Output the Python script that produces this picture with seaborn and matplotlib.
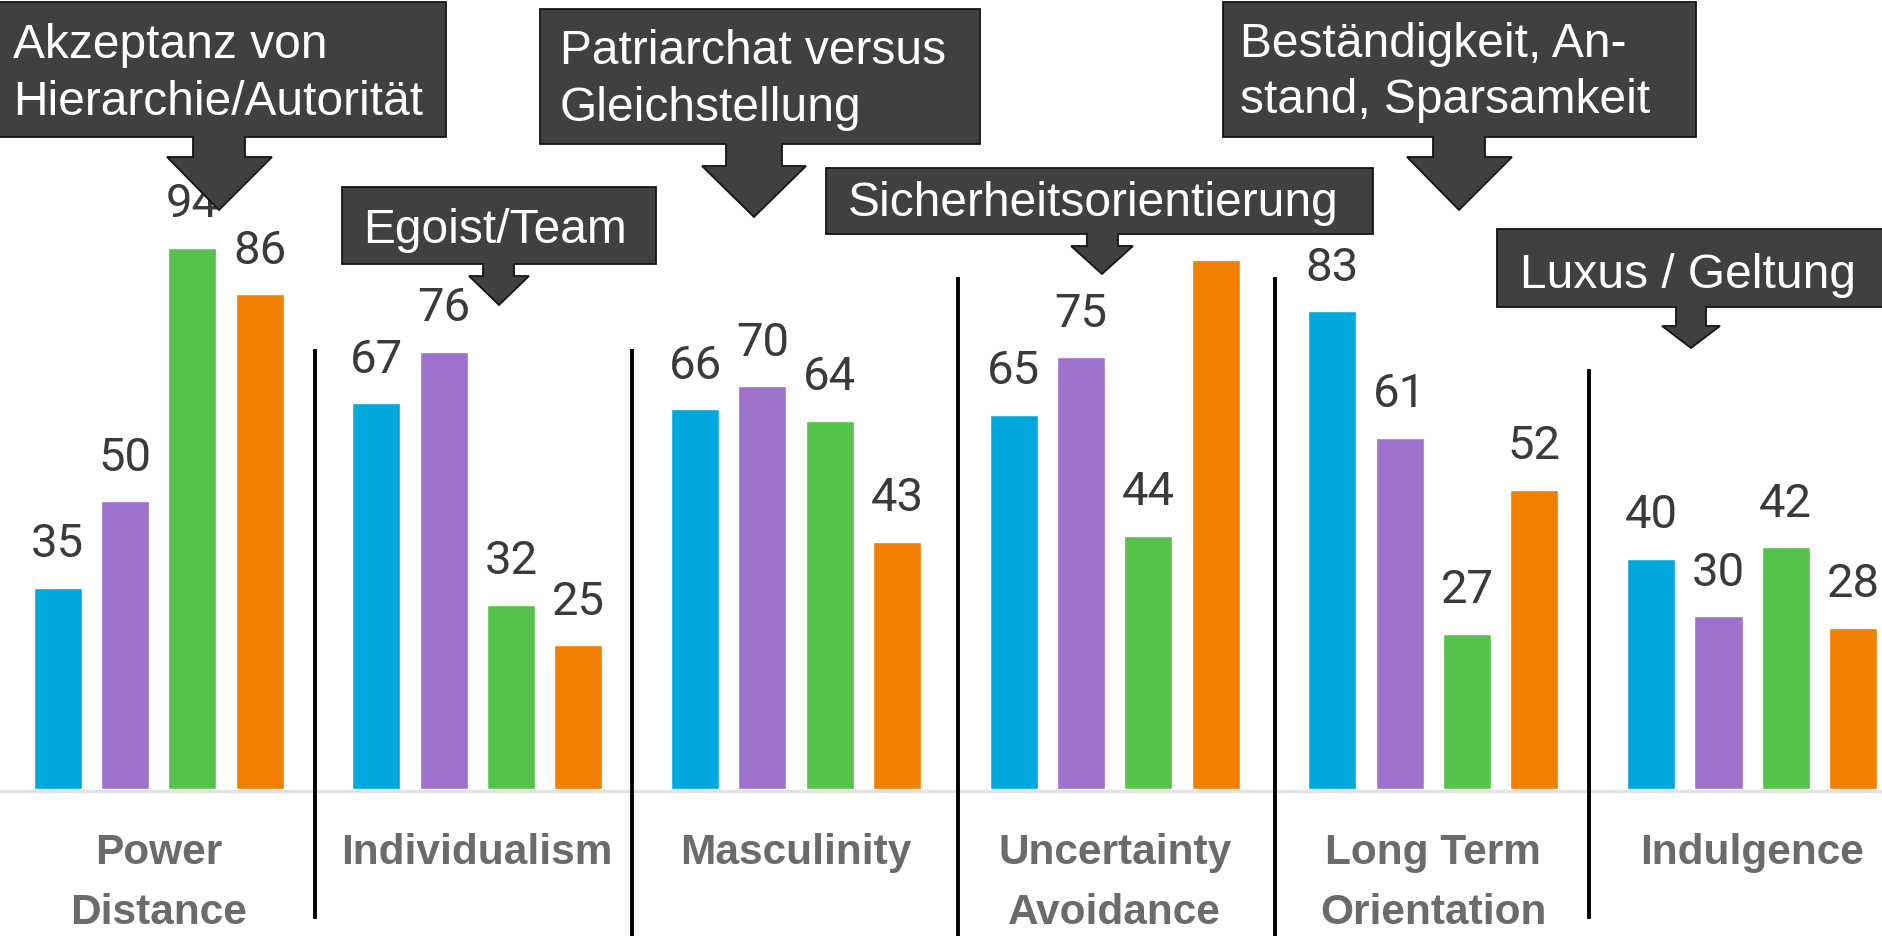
import numpy as np
import pandas as pd
import matplotlib
matplotlib.use("Agg")
import matplotlib.pyplot as plt
import matplotlib.transforms as mtransforms
from matplotlib.patches import Polygon
from matplotlib.lines import Line2D
import seaborn as sns

# ---------------- data ----------------
dimensions = ["Power\nDistance", "Individualism", "Masculinity",
              "Uncertainty\nAvoidance", "Long Term\nOrientation", "Indulgence"]
countries = ["Land A", "Land B", "Land C", "Land D"]
country_a = [35, 67, 66, 65, 83, 40]
country_b = [50, 76, 70, 75, 61, 30]
country_c = [94, 32, 64, 44, 27, 42]
country_d = [86, 25, 43, 92, 52, 28]
series = [country_a, country_b, country_c, country_d]
colors = ["#00a8de", "#9d71cc", "#55c249", "#f28000"]

callout_texts = ["Akzeptanz von\nHierarchie/Autorität",
                 "Egoist/Team",
                 "Patriarchat versus\nGleichstellung",
                 "Sicherheitsorientierung",
                 "Beständigkeit, An-\nstand, Sparsamkeit",
                 "Luxus / Geltung"]

# value labels that the reference hides behind a callout box: (series index, dimension index)
hidden_labels = {(3, 3)}

# ---------------- layout (pixels, top-left origin) ----------------
W, H = 1883, 936
BASE = 789          # baseline pixel row
PX_PER_UNIT = 5.755 # value scale
X0 = 158.6          # pixel of first group center
GROUP_PX = 318.7    # pixel distance between groups

# callout: box(l, r, t, b), stem(l, r, end), head(l, r), apex(x, y), text x, baselines
callout_geom = [
    dict(box=(-3, 446, 2, 137), stem=(193, 245, 157), head=(167, 272), apex=(219, 210),
         tx=13, tb=[58, 115]),
    dict(box=(342, 656, 187, 264), stem=(483, 514, 276), head=(469, 529), apex=(499, 305),
         tx=363, tb=[243]),
    dict(box=(540, 980, 9, 144), stem=(726, 782, 166), head=(702, 806), apex=(754, 217),
         tx=560, tb=[64, 121]),
    dict(box=(826, 1373, 168, 234), stem=(1087, 1118, 246), head=(1071, 1133), apex=(1102, 274),
         tx=848, tb=[216]),
    dict(box=(1223, 1696, 2, 137), stem=(1433, 1485, 157), head=(1407, 1512), apex=(1459, 210),
         tx=1240, tb=[57, 113]),
    dict(box=(1497, 1900, 229, 307), stem=(1676, 1706, 326), head=(1662, 1720), apex=(1691, 348),
         tx=1520, tb=[288]),
]

separators = [(0.49, 349, 919), (1.485, 349, 940), (2.508, 277, 940),
              (3.503, 277, 940), (4.488, 369, 919)]

# ---------------- figure ----------------
sns.set_theme(style="white")
plt.rcParams["font.family"] = ["Liberation Sans", "DejaVu Sans"]

fig = plt.figure(figsize=(W / 100, H / 100), dpi=100)
fig.patch.set_facecolor("white")
px = mtransforms.Affine2D().scale(1, -1).translate(0, H)

ax = fig.add_axes([0, (H - BASE) / H, 1, BASE / H])

rows = []
for c, vals in zip(countries, series):
    for d, v in zip(dimensions, vals):
        rows.append({"dimension": d, "country": c, "value": v})
df = pd.DataFrame(rows)

sns.barplot(data=df, x="dimension", y="value", hue="country", order=dimensions,
            hue_order=countries, palette=colors, width=0.845, gap=0.285,
            saturation=1, errorbar=None, legend=False, ax=ax, zorder=2)

ax.set_ylim(0, BASE / PX_PER_UNIT)
ax.set_xlim(-X0 / GROUP_PX, (W - X0) / GROUP_PX)
ax.set_axis_off()

# baseline
ax.axhline(-1.6 / PX_PER_UNIT, color="#e3e3e3", lw=2.3, zorder=1, clip_on=False)

# value labels
for si, (cont, vals) in enumerate(zip(ax.containers, series)):
    for di, (bar, v) in enumerate(zip(cont, vals)):
        if (si, di) in hidden_labels:
            continue
        ax.annotate(f"{v}", xy=(bar.get_x() + bar.get_width() / 2, bar.get_height()),
                    xytext=(0, 22), textcoords="offset points", ha="center",
                    va="baseline", fontsize=34, color="#3a3a3a",
                    family=["Roboto", "DejaVu Sans"], zorder=3, annotation_clip=False)

blend = mtransforms.blended_transform_factory(ax.transData, px)

# category labels
for i, name in enumerate(dimensions):
    for j, line in enumerate(name.split("\n")):
        ax.text(i, 864 + 60 * j, line, transform=blend, ha="center", va="baseline",
                fontsize=30.5, fontweight="bold", color="#6b6b6b", clip_on=False)

# separator lines
for x, t, b in separators:
    ax.add_line(Line2D([x, x], [t, b], transform=blend, color="black", lw=2.8,
                       solid_capstyle="butt", clip_on=False, zorder=5))

# callouts
for text, g in zip(callout_texts, callout_geom):
    l, r, t, b = g["box"]
    sl, sr, se = g["stem"]
    hl, hr = g["head"]
    axp, ayp = g["apex"]
    pts = [(l, t), (r, t), (r, b), (sr, b), (sr, se), (hr, se), (axp, ayp),
           (hl, se), (sl, se), (sl, b), (l, b)]
    poly = Polygon(pts, closed=True, transform=px, facecolor="#404040",
                   edgecolor="#151515", lw=1.3, zorder=10, clip_on=False)
    ax.add_patch(poly)
    for line, yb in zip(text.split("\n"), g["tb"]):
        ax.text(g["tx"], yb, line, transform=px, ha="left", va="baseline",
                fontsize=34.5, color="white", zorder=11, clip_on=False)

fig.savefig("out.png", dpi=100, facecolor="white")
